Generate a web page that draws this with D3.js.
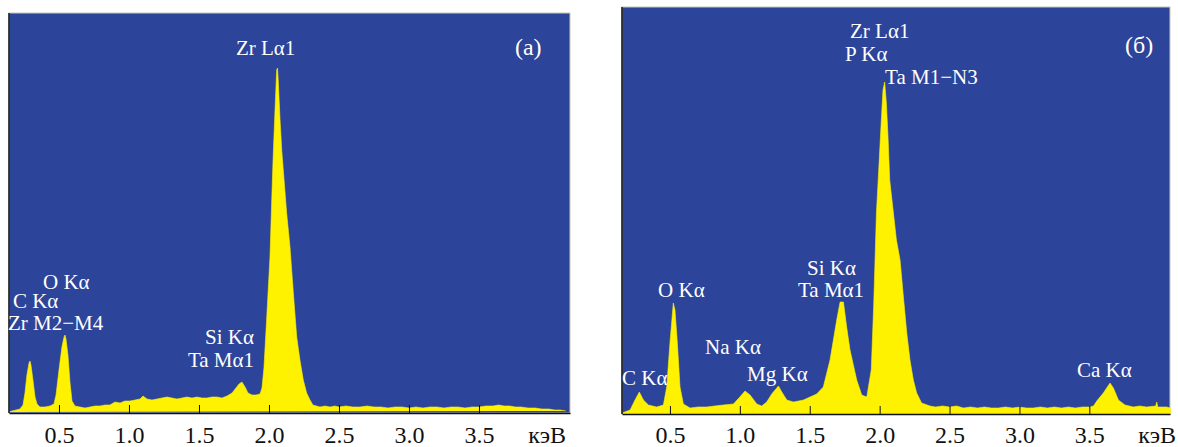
<!DOCTYPE html>
<html>
<head>
<meta charset="utf-8">
<script src="https://cdn.jsdelivr.net/npm/d3@7"></script>
<style>
  body { margin: 0; background: #fff; }
</style>
</head>
<body>
<div id="chart"></div>
<script>
// spectrum (a): energy in keV, intensity in arbitrary counts
var energyA = [0.14, 0.164, 0.193, 0.221, 0.243, 0.257, 0.271, 0.286, 0.293, 0.300, 0.314, 0.329, 0.343,
    0.364, 0.400, 0.436, 0.464, 0.479, 0.500, 0.521, 0.536, 0.543, 0.550, 0.564, 0.579, 0.593, 0.614,
    0.650, 0.686, 0.721, 0.757, 0.793, 0.829, 0.864, 0.900, 0.936, 0.971, 1.007, 1.043, 1.079, 1.100,
    1.129, 1.164, 1.200, 1.236, 1.271, 1.307, 1.343, 1.379, 1.414, 1.450, 1.486, 1.521, 1.557, 1.593,
    1.629, 1.664, 1.700, 1.736, 1.764, 1.786, 1.807, 1.829, 1.850, 1.879, 1.907, 1.936, 1.950, 1.964,
    1.983, 2.007, 2.019, 2.029, 2.043, 2.055, 2.061, 2.066, 2.079, 2.091, 2.102, 2.126, 2.150, 2.174,
    2.198, 2.221, 2.245, 2.269, 2.293, 2.314, 2.364, 2.40, 2.436, 2.47, 2.50, 2.55, 2.60, 2.65, 2.70,
    2.75, 2.80, 2.85, 2.90, 2.95, 3.00, 3.05, 3.10, 3.15, 3.20, 3.25, 3.30, 3.35, 3.40, 3.45, 3.50,
    3.55, 3.60, 3.64, 3.68, 3.72, 3.76, 3.80, 3.85, 3.90, 3.95, 4.00, 4.04, 4.08, 4.12, 4.15];
var countsA = [1, 2, 3, 4, 8, 20, 38, 50, 52, 48, 33, 16, 9,
    6, 6, 7, 9, 18, 43, 66, 76, 78, 74, 58, 30, 12, 7,
    6, 5, 6, 7, 7, 8, 8, 11, 10, 12, 12, 13, 14, 17,
    14, 13, 14, 15, 16, 15, 14, 15, 16, 15, 16, 15, 15, 16,
    16, 15, 17, 20, 25, 29, 31, 26, 20, 18, 18, 19, 25, 45,
    93, 156, 210, 253, 303, 343, 345, 333, 293, 263, 243, 200, 166, 120,
    76, 53, 33, 20, 13, 8, 6, 7, 6, 7, 6, 7, 6, 6, 7,
    6, 6, 5, 6, 6, 5, 6, 5, 6, 6, 5, 6, 6, 5, 6,
    6, 7, 7, 8, 7, 7, 6, 6, 5, 5, 4, 4, 3, 3, 2];

// spectrum (б)
var energyB = [0.157, 0.215, 0.250, 0.281, 0.310, 0.346, 0.405, 0.453, 0.477, 0.500, 0.524, 0.536, 0.553,
    0.572, 0.596, 0.644, 0.70, 0.763, 0.82, 0.882, 0.954, 1.000, 1.037, 1.073, 1.121, 1.157, 1.192,
    1.228, 1.276, 1.300, 1.336, 1.383, 1.42, 1.455, 1.502, 1.550, 1.597, 1.645, 1.693, 1.717, 1.741,
    1.764, 1.788, 1.836, 1.872, 1.908, 1.940, 1.958, 1.977, 1.996, 2.012, 2.024, 2.036, 2.048, 2.060,
    2.072, 2.096, 2.120, 2.146, 2.170, 2.194, 2.217, 2.241, 2.265, 2.300, 2.360, 2.40, 2.45, 2.50,
    2.55, 2.60, 2.65, 2.70, 2.75, 2.80, 2.85, 2.90, 2.95, 3.00, 3.05, 3.10, 3.15, 3.20, 3.25, 3.30,
    3.35, 3.40, 3.45, 3.50, 3.53, 3.553, 3.600, 3.648, 3.672, 3.708, 3.755,
    3.815, 3.86, 3.910, 3.975, 3.982, 3.990, 4.02, 4.054, 4.08];
var countsB = [1, 4, 14, 22, 14, 9, 7, 9, 27, 71, 111, 104, 71,
    27, 10, 6, 7, 7, 8, 9, 10, 17, 23, 19, 10, 8, 12,
    20, 28, 22, 14, 12, 13, 14, 17, 20, 27, 54, 94, 112, 112,
    87, 64, 34, 19, 17, 44, 111, 201, 251, 294, 324, 332, 311, 277,
    234, 204, 174, 154, 117, 81, 54, 34, 21, 11, 8, 7, 8, 7,
    8, 6, 7, 6, 7, 6, 6, 7, 6, 7, 6, 6, 7, 6, 7, 6,
    7, 6, 7, 7, 8, 13, 21, 31, 26, 14, 9,
    7, 8, 7, 8, 12, 7, 7, 7, 6];

var tickValues = [0.5, 1.0, 1.5, 2.0, 2.5, 3.0, 3.5];
var unitLabel = 'кэВ';

// peak labels: text, energy of text start, count level of baseline
var labelsA = [
    ['Zr Lα1', 1.764, 358],
    ['(a)', 3.757, 358],
    ['O Kα', 0.386, 124],
    ['C Kα', 0.171, 105],
    ['Zr M2−M4', 0.136, 83],
    ['Si Kα', 1.543, 69],
    ['Ta Mα1', 1.421, 46]
];
var labelsB = [
    ['Zr Lα1', 1.788, 376],
    ['P Kα', 1.753, 353],
    ['Ta M1−N3', 2.039, 330],
    ['(б)', 3.755, 361],
    ['O Kα', 0.415, 117],
    ['Na Kα', 0.751, 60],
    ['Mg Kα', 1.052, 33],
    ['C Kα', 0.157, 29],
    ['Si Kα', 1.481, 139],
    ['Ta Mα1', 1.416, 117],
    ['Ca Kα', 3.412, 37]
];

var serif = '"Liberation Serif", "DejaVu Serif", serif';
var width = 1178, height = 447;
var labelBaseline = 443;
var svg = d3.select('#chart').append('svg')
    .attr('width', width).attr('height', height)
    .attr('font-family', serif);
svg.append('rect').attr('width', width).attr('height', height).attr('fill', '#fff');

function drawPanel(p) {
    var x = d3.scaleLinear().domain(p.xDomain).range([p.left, p.right]);
    var y = d3.scaleLinear().domain(p.yDomain).range([p.bottom, p.top]);
    var g = svg.append('g');

    // plot background
    g.append('rect')
        .attr('x', p.left).attr('y', p.top)
        .attr('width', p.right - p.left).attr('height', p.bottom - p.top)
        .attr('fill', '#2c4499')
        .attr('stroke', '#c8c8b4').attr('stroke-width', 1);

    var pts = p.energy.map(function (e, i) { return [e, p.counts[i]]; });
    var area = d3.area()
        .x(function (d) { return x(d[0]); })
        .y0(y(0))
        .y1(function (d) { return y(d[1]); });
    g.append('path').datum(pts)
        .attr('d', area)
        .attr('fill', '#fff200')
        .attr('stroke', '#fff200').attr('stroke-width', 0.6);

    // dark left edge
    g.append('line')
        .attr('x1', p.left).attr('x2', p.left)
        .attr('y1', p.top).attr('y2', p.bottom)
        .attr('stroke', '#111').attr('stroke-width', 1.5);

    // bottom axis, ticks pointing up into the plot
    var axis = d3.axisBottom(x).tickValues(tickValues)
        .tickFormat(d3.format('.1f'))
        .tickSizeInner(-8).tickSizeOuter(0);
    var ax = g.append('g').attr('transform', 'translate(0,' + p.bottom + ')').call(axis)
        .attr('font-family', serif);
    ax.select('.domain').attr('stroke', '#111').attr('stroke-width', 1.5);
    ax.selectAll('.tick line').attr('stroke', '#111').attr('stroke-width', 1);
    ax.selectAll('.tick text')
        .attr('y', labelBaseline - p.bottom).attr('dy', null)
        .attr('font-size', 24).attr('fill', '#111')
        .attr('font-family', serif);

    g.append('text')
        .attr('x', p.unitX).attr('y', labelBaseline)
        .attr('text-anchor', 'end')
        .attr('font-size', 24).attr('fill', '#111')
        .attr('font-family', serif)
        .text(unitLabel);

    g.selectAll('text.peak').data(p.labels).enter().append('text')
        .attr('class', 'peak')
        .attr('x', function (d) { return x(d[1]); })
        .attr('y', function (d) { return y(d[2]); })
        .attr('font-size', function (d) { return d[0].charAt(0) === '(' ? 24 : 21; })
        .attr('font-family', serif)
        .attr('fill', '#fff')
        .text(function (d) { return d[0]; });
}

drawPanel({
    energy: energyA, counts: countsA, labels: labelsA,
    xDomain: [0.143, 4.15], yDomain: [0, 400],
    left: 9, right: 570, top: 13, bottom: 413, unitX: 566
});
drawPanel({
    energy: energyB, counts: countsB, labels: labelsB,
    xDomain: [0.157, 4.077], yDomain: [0, 407],
    left: 622, right: 1170, top: 7, bottom: 414, unitX: 1176
});
</script>
</body>
</html>
